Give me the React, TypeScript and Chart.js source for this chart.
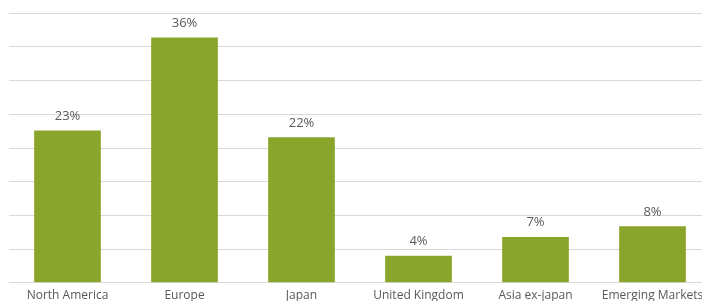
import React, { useEffect, useRef } from "react";
import { Chart, registerables } from "chart.js";

Chart.register(...registerables);

const categories = ["North America", "Europe", "Japan", "United Kingdom", "Asia ex-japan", "Emerging Markets"];
const values = [22.6, 36.4, 21.6, 4.0, 6.8, 8.4];
const yMax = 40;
const yStep = 5;

const dataLabelPlugin = {
  id: "dataLabels",
  afterDatasetsDraw(chart: any) {
    const ctx = chart.ctx;
    const meta = chart.getDatasetMeta(0);
    ctx.save();
    ctx.font = "13px 'Open Sans'";
    ctx.fillStyle = "#595959";
    ctx.textAlign = "center";
    ctx.textBaseline = "alphabetic";
    meta.data.forEach((bar: any, i: number) => {
      const label = Math.round(values[i]) + "%";
      ctx.fillText(label, bar.x, bar.y - 10.5);
    });
    ctx.restore();
  },
};

export default function App() {
  const ref = useRef<HTMLCanvasElement>(null);
  useEffect(() => {
    document.documentElement.style.overflow = "hidden";
    const chart = new Chart(ref.current!, {
      type: "bar",
      data: {
        labels: categories,
        datasets: [
          {
            data: values,
            backgroundColor: "#8AA52B",
            barPercentage: 0.57,
            categoryPercentage: 1,
          },
        ],
      },
      options: {
        animation: false,
        responsive: false,
        layout: { autoPadding: false, padding: { top: 13.3, bottom: 0, left: 9, right: 0 } },
        plugins: { legend: { display: false }, tooltip: { enabled: false } },
        scales: {
          x: {
            grid: { display: false, drawTicks: false },
            border: { display: false },
            ticks: {
              color: "#595959",
              font: { family: "'Open Sans'", size: 12 },
              padding: 6,
              maxRotation: 0,
              minRotation: 0,
              autoSkip: false,
            },
            afterFit: (scale: any) => {
              scale.height = 25.3;
            },
          },
          y: {
            min: 0,
            max: yMax,
            ticks: { display: false, stepSize: yStep },
            grid: { color: "#D9D9D9", lineWidth: 1, drawTicks: false },
            border: { display: false },
            afterFit: (scale: any) => {
              scale.width = 0;
            },
          },
        },
      },
      plugins: [dataLabelPlugin],
    });
    return () => chart.destroy();
  }, []);
  return (
    <div style={{ position: "fixed", left: 0, top: 0, width: 711, height: 308 }}>
      <canvas ref={ref} width={711} height={308} style={{ display: "block" }} />
    </div>
  );
}
